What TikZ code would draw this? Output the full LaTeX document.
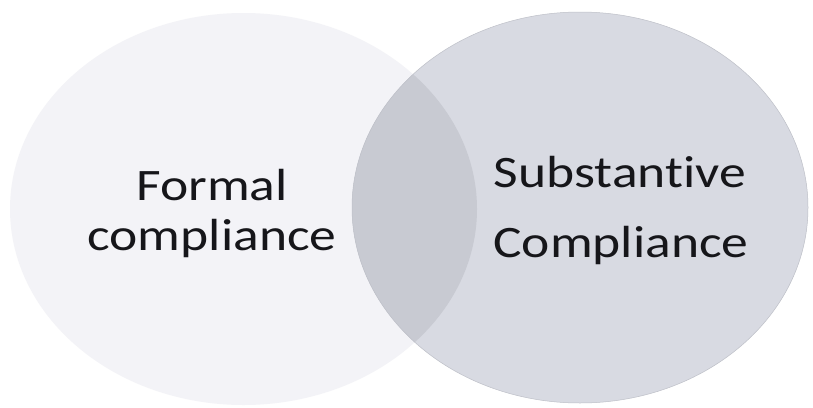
\documentclass[tikz,border=0pt]{standalone}
\usepackage{fontspec}
\setmainfont{Carlito}[Ligatures={CommonOff,ContextualOff}]
\definecolor{formalfill}{RGB}{243,243,247}
\definecolor{substfill}{RGB}{216,218,226}
\definecolor{overlapfill}{RGB}{200,202,210}
\definecolor{substedge}{RGB}{190,192,200}
\definecolor{labeltext}{RGB}{22,22,26}
\begin{document}
\begin{tikzpicture}[x=1pt,y=-1pt,
  labelline/.style={anchor=base,inner sep=0pt,text=labeltext,xscale=1.19,
    font=\fontsize{45}{50}\selectfont}]
  % canvas
  \path[use as bounding box,fill=white] (0,0) rectangle (813,407);
  % the two sets
  \fill[formalfill] (243.5,209) ellipse [x radius=233.5, y radius=196];
  \fill[substfill] (580,207.5) ellipse [x radius=228, y radius=195.5];
  % intersection lens
  \begin{scope}
    \clip (243.5,209) ellipse [x radius=233.5, y radius=196];
    \fill[overlapfill] (580,207.5) ellipse [x radius=228, y radius=195.5];
  \end{scope}
  \draw[substedge,line width=0.5pt] (580,207.5) ellipse [x radius=228, y radius=195.5];
  % labels
  \node[labelline] (formalA) at (212,200) {Formal};
  \node[labelline] (formalB) at (212,250) {compliance};
  \node[labelline] (substA) at (620,187) {Substantive};
  \node[labelline] (substB) at (621,257) {Compliance};
\end{tikzpicture}
\end{document}
